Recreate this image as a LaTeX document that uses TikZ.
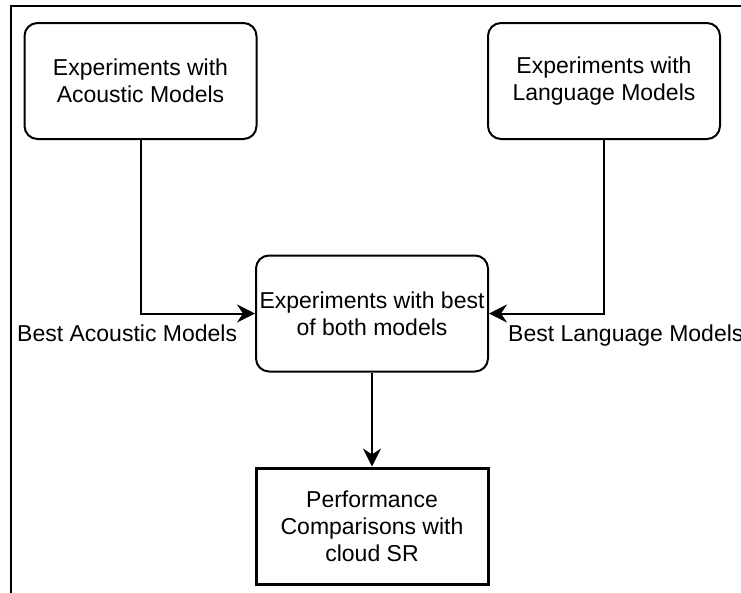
\documentclass[tikz,border=0pt]{standalone}
\usepackage{fontspec}
\setmainfont{Liberation Sans}
\usetikzlibrary{arrows.meta}
\begin{document}
\begin{tikzpicture}[x=1pt,y=-1pt,
  every node/.style={font=\fontsize{23}{27}\selectfont, text=black},
  roundbox/.style={draw, line width=2pt, rounded corners=13pt, align=center,
    minimum width=232pt, minimum height=116pt, inner sep=0pt},
  plainbox/.style={draw, line width=3pt, align=center,
    minimum width=232pt, minimum height=116pt, inner sep=0pt},
  flow/.style={line width=2pt, -{Stealth[length=18pt, width=18pt, inset=6pt]}},
  lbl/.style={inner sep=0pt, anchor=west}]
  \useasboundingbox (0,0) rectangle (741,592);
  % outer frame (only its top and left edges fall inside the page)
  \draw[line width=2.5pt] (11,600) -- (11,6) -- (760,6);

  \node[roundbox] (ac) at (140.5,81) {Experiments with\\Acoustic Models};
  \node[roundbox] (lm) at (604,81) {Experiments with\\Language Models};
  \node[roundbox] (both) at (372,313.5) {Experiments with best\\of both models};
  \node[plainbox] (perf) at (372,526) {Performance\\Comparisons with\\cloud SR};

  \draw[flow] (ac.south) |- (both.west);
  \draw[flow] (lm.south) |- (both.east);
  \draw[flow] (both.south) -- (perf.north);

  \node[lbl] (bal) at (17,333) {Best Acoustic Models};
  \node[lbl] (bll) at (508,336) {Best Language Models};
\end{tikzpicture}
\end{document}
